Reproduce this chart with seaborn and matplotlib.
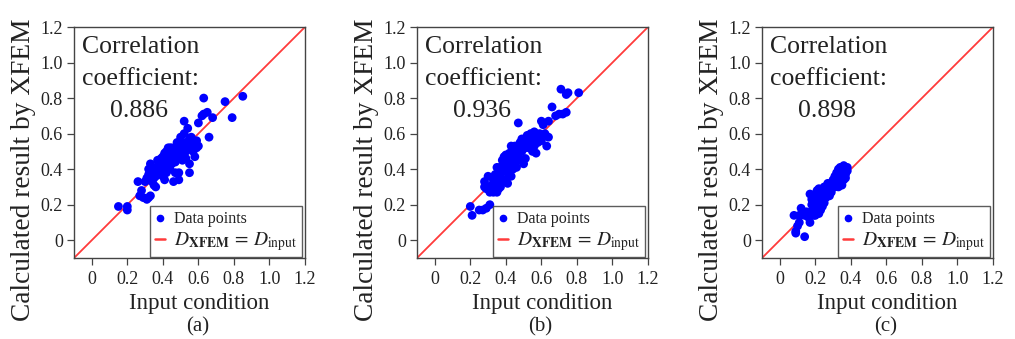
import matplotlib
matplotlib.use("Agg")
import matplotlib.pyplot as plt
import seaborn as sns
import pandas as pd
from matplotlib.lines import Line2D

# ---------------- data ----------------
a_x = [0.15,0.20,0.20,0.26,0.28,0.27,0.29,0.31,0.32,0.33,0.30,0.31,0.32,0.32,0.33,0.34,0.34,0.35,0.36,0.35,
       0.36,0.37,0.37,0.38,0.39,0.40,0.40,0.41,0.41,0.42,0.42,0.43,0.43,0.44,0.44,0.45,0.45,0.46,0.46,0.47,
       0.47,0.48,0.48,0.49,0.49,0.50,0.50,0.51,0.51,0.52,0.52,0.53,0.53,0.54,0.55,0.55,0.55,0.56,0.57,0.57,
       0.58,0.58,0.59,0.60,0.60,0.62,0.63,0.63,0.65,0.66,0.68,0.75,0.79,0.85,0.56,0.54,0.53,0.50,0.48,0.46,
       0.44,0.43,0.42,0.40,0.39,0.38,0.36,0.35,0.33,0.45,0.47,0.49,0.51,0.57,0.59,0.42,0.44]
a_y = [0.19,0.19,0.17,0.33,0.28,0.25,0.24,0.23,0.24,0.25,0.33,0.35,0.37,0.40,0.43,0.38,0.33,0.31,0.30,0.35,
       0.41,0.39,0.45,0.44,0.42,0.36,0.47,0.49,0.34,0.38,0.45,0.50,0.52,0.47,0.40,0.43,0.52,0.50,0.33,0.38,
       0.44,0.55,0.46,0.38,0.34,0.52,0.58,0.49,0.45,0.60,0.67,0.55,0.50,0.63,0.57,0.43,0.38,0.55,0.52,0.50,
       0.54,0.47,0.56,0.53,0.66,0.70,0.71,0.80,0.72,0.58,0.69,0.78,0.69,0.81,0.58,0.53,0.46,0.47,0.49,0.46,
       0.44,0.42,0.50,0.43,0.46,0.38,0.36,0.40,0.34,0.48,0.52,0.54,0.54,0.56,0.52,0.40,0.52]

b_x = [0.20,0.21,0.25,0.27,0.29,0.31,0.28,0.28,0.29,0.30,0.31,0.32,0.32,0.33,0.33,0.34,0.34,0.35,0.35,0.36,
       0.36,0.37,0.37,0.38,0.38,0.39,0.39,0.40,0.40,0.40,0.41,0.41,0.42,0.42,0.43,0.43,0.44,0.44,0.45,0.45,
       0.46,0.46,0.47,0.47,0.48,0.48,0.49,0.49,0.50,0.50,0.51,0.51,0.52,0.52,0.53,0.53,0.54,0.55,0.55,0.56,
       0.56,0.57,0.58,0.58,0.59,0.60,0.60,0.61,0.62,0.63,0.64,0.64,0.66,0.68,0.70,0.71,0.72,0.74,0.74,0.75,
       0.81,0.37,0.35,0.42,0.45,0.47,0.49,0.51,0.54,0.57,0.44,0.40,0.38]
b_y = [0.19,0.14,0.17,0.17,0.18,0.20,0.30,0.33,0.29,0.36,0.27,0.28,0.31,0.34,0.27,0.30,0.37,0.41,0.33,0.38,
       0.29,0.36,0.41,0.45,0.33,0.39,0.47,0.34,0.44,0.48,0.38,0.32,0.46,0.49,0.36,0.53,0.45,0.40,0.50,0.53,
       0.41,0.47,0.66,0.52,0.45,0.55,0.57,0.50,0.43,0.54,0.56,0.46,0.59,0.55,0.57,0.52,0.60,0.50,0.56,0.53,
       0.61,0.49,0.57,0.55,0.60,0.56,0.67,0.65,0.60,0.53,0.58,0.67,0.75,0.70,0.71,0.85,0.71,0.72,0.82,0.83,
       0.83,0.30,0.27,0.42,0.44,0.48,0.53,0.52,0.55,0.57,0.50,0.40,0.42]

c_x = [0.08,0.09,0.09,0.10,0.11,0.11,0.12,0.14,0.14,0.15,0.16,0.17,0.17,0.18,0.18,0.18,0.19,0.19,0.19,0.20,
       0.20,0.20,0.20,0.21,0.21,0.21,0.22,0.22,0.22,0.22,0.23,0.23,0.23,0.23,0.24,0.24,0.24,0.25,0.25,0.25,
       0.26,0.26,0.27,0.27,0.28,0.29,0.30,0.30,0.31,0.31,0.32,0.32,0.33,0.33,0.34,0.34,0.35,0.35,0.35,0.36,
       0.36,0.37,0.37,0.38,0.38,0.34,0.36,0.33,0.19,0.21,0.24,0.26,0.28,0.29,0.20,0.22,0.25,0.23,0.31,0.37]
c_y = [0.14,0.05,0.04,0.08,0.10,0.14,0.18,0.02,0.14,0.16,0.13,0.10,0.26,0.20,0.16,0.23,0.25,0.18,0.14,0.22,
       0.26,0.17,0.20,0.24,0.16,0.28,0.22,0.19,0.25,0.29,0.23,0.26,0.17,0.20,0.28,0.22,0.25,0.27,0.30,0.21,
       0.26,0.28,0.27,0.32,0.28,0.29,0.31,0.34,0.36,0.30,0.33,0.38,0.40,0.35,0.38,0.41,0.36,0.39,0.31,0.40,
       0.42,0.37,0.39,0.41,0.39,0.31,0.34,0.30,0.21,0.20,0.19,0.24,0.25,0.27,0.14,0.15,0.23,0.28,0.33,0.35]

coefficients = ["0.886", "0.936", "0.898"]
panel_labels = ["(a)", "(b)", "(c)"]
tick_values = [0, 0.2, 0.4, 0.6, 0.8, 1.0, 1.2]
tick_labels = ["0", "0.2", "0.4", "0.6", "0.8", "1.0", "1.2"]
ref_line = [-0.1, 1.2]

# ---------------- style ----------------
sns.set_style("ticks")
plt.rcParams["font.family"] = ["Liberation Serif", "DejaVu Serif"]
plt.rcParams["mathtext.fontset"] = "stix"

fig = plt.figure(figsize=(10.15, 3.39), dpi=100)
lefts = [74/1015, 417/1015, 762/1015]
w = 231/1015
b = 81/339
h = 231/339

datasets = [(a_x, a_y), (b_x, b_y), (c_x, c_y)]
spine_col = "#444444"
text_col = "#222222"

for i, (xs, ys) in enumerate(datasets):
    ax = fig.add_axes([lefts[i], b, w, h])
    df = pd.DataFrame({"x": xs, "y": ys})
    sns.lineplot(x=ref_line, y=ref_line, ax=ax, color="#ff3b3b", lw=1.3, zorder=1)
    sns.scatterplot(data=df, x="x", y="y", ax=ax, color="#0000ff", s=40,
                    edgecolor="none", linewidth=0, zorder=2)
    ax.set_xlim(-0.1, 1.2)
    ax.set_ylim(-0.1, 1.2)
    ax.set_xticks(tick_values)
    ax.set_xticklabels(tick_labels)
    ax.set_yticks(tick_values)
    ax.set_yticklabels(tick_labels)
    ax.tick_params(axis="both", labelsize=13, length=5, width=0.9,
                   colors=spine_col, labelcolor=text_col, direction="out")
    ax.tick_params(axis="x", pad=4)
    ax.tick_params(axis="y", pad=3)
    for sp in ax.spines.values():
        sp.set_visible(True)
        sp.set_color(spine_col)
        sp.set_linewidth(1.0)

    ax.set_xlabel("Input condition", fontsize=16.5, color=text_col, va="center")
    ax.xaxis.set_label_coords(0.54, -0.195)
    ax.set_ylabel("Calculated result by XFEM", fontsize=19.7, color=text_col, va="center")
    ax.yaxis.set_label_coords(-0.217, 0.381)

    ax.text(0.033, 0.887, "Correlation", transform=ax.transAxes, fontsize=18.5,
            color=text_col, va="baseline", ha="left")
    ax.text(0.033, 0.749, "coefficient:", transform=ax.transAxes, fontsize=18.5,
            color=text_col, va="baseline", ha="left")
    ax.text(0.158, 0.610, coefficients[i], transform=ax.transAxes, fontsize=18.5,
            color=text_col, va="baseline", ha="left")
    ax.text(0.535, -0.30, panel_labels[i], transform=ax.transAxes, fontsize=15,
            color=text_col, va="center", ha="center")

    handles = [Line2D([], [], marker="o", color="#0000ff", linestyle="none", markersize=4.5),
               Line2D([], [], color="#ff3b3b", lw=1.8)]
    leg = ax.legend(handles, ["Data points", r"$D_{\mathbf{XFEM}}\,=\,D_{\mathrm{input}}$"],
                    loc="lower right", bbox_to_anchor=(0.988, 0.003), fontsize=11.5,
                    frameon=True, fancybox=False,
                    handlelength=0.6, handletextpad=0.6, borderaxespad=0.0,
                    borderpad=0.3, labelspacing=0.15)
    leg.get_frame().set_edgecolor("#333333")
    leg.get_frame().set_linewidth(1.0)
    txts = leg.get_texts()
    for t in txts:
        t.set_color(text_col)
    txts[1].set_fontsize(14)

fig.savefig("out.png", dpi=100)
